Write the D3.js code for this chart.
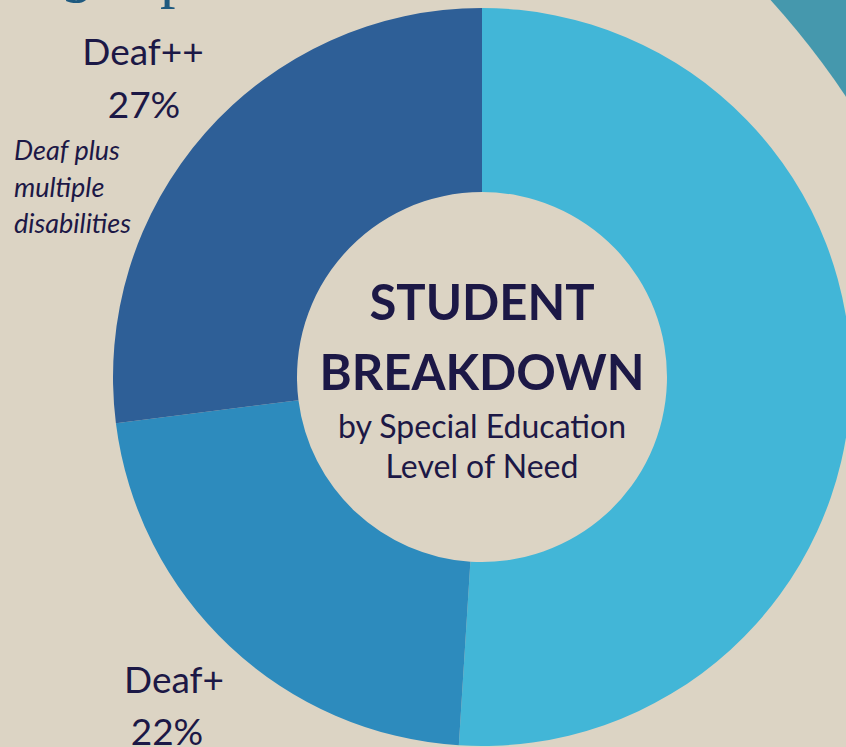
<!DOCTYPE html>
<html lang="en">
<head>
<meta charset="utf-8">
<script src="https://d3js.org/d3.v7.min.js"></script>
<style>
body { margin: 0; background: #dcd4c4; }
svg { display: block; }
.lbl { font-family: Lato, "Open Sans", sans-serif; fill: #1c1846; }
</style>
</head>
<body>
<div id="chart"></div>
<script>
// data
var categories = ["Deaf", "Deaf+", "Deaf++"];
var shares = [51, 22, 27];
var colors = ["#42b6d7", "#2d8bbd", "#2e5f97"];

var width = 846, height = 747;
var cx = 482, cy = 377;
var outerR = 369, innerR = 185;

var svg = d3.select("#chart").append("svg")
  .attr("width", width)
  .attr("height", height);

svg.append("rect").attr("width", width).attr("height", height).attr("fill", "#dcd4c4");

// decorative circle in the corner
svg.append("circle")
  .attr("cx", 140).attr("cy", 570).attr("r", 1200)
  .attr("fill", "#4598ad");
svg.append("circle")
  .attr("cx", 140).attr("cy", 570).attr("r", 850)
  .attr("fill", "#dcd4c4");

// bits of the page title above, cut off
svg.append("text")
  .attr("x", 66).attr("y", -10)
  .style("font-family", "'Liberation Serif', 'DejaVu Serif', serif")
  .style("font-size", "62px")
  .style("font-style", "italic")
  .attr("fill", "#1f5a80")
  .text("g");
svg.append("text")
  .attr("x", 160).attr("y", -4)
  .style("font-family", "'Liberation Serif', 'DejaVu Serif', serif")
  .style("font-size", "62px")
  .attr("fill", "#1f5a80")
  .text("p");

var pie = d3.pie().sort(null).value(function(d) { return d; });
var arc = d3.arc().innerRadius(innerR).outerRadius(outerR);

var g = svg.append("g").attr("transform", "translate(" + cx + "," + cy + ")");

g.selectAll("path")
  .data(pie(shares))
  .enter()
  .append("path")
  .attr("d", arc)
  .attr("fill", function(d, i) { return colors[i]; });

// center title
var center = g.append("g").attr("class", "lbl").attr("text-anchor", "middle");
center.append("text").attr("y", -57).style("font-size", "49px").style("font-weight", "700").text("STUDENT");
center.append("text").attr("y", 13).style("font-size", "49px").style("font-weight", "700").text("BREAKDOWN");
center.append("text").attr("y", 61).style("font-size", "32px").text("by Special Education");
center.append("text").attr("y", 101).style("font-size", "32px").text("Level of Need");

// slice labels
svg.append("text").attr("class", "lbl").attr("x", 143).attr("y", 65)
  .attr("text-anchor", "middle").style("font-size", "37px").text(categories[2]);
svg.append("text").attr("class", "lbl").attr("x", 144).attr("y", 118)
  .attr("text-anchor", "middle").style("font-size", "37px").text(shares[2] + "%");

var note = ["Deaf plus", "multiple", "disabilities"];
svg.append("g").attr("class", "lbl")
  .selectAll("text").data(note).enter().append("text")
  .attr("x", 14)
  .attr("y", function(d, i) { return 160 + i * 36.5; })
  .style("font-size", "27px")
  .style("font-style", "italic")
  .text(function(d) { return d; });

svg.append("text").attr("class", "lbl").attr("x", 174).attr("y", 693)
  .attr("text-anchor", "middle").style("font-size", "37px").text(categories[1]);
svg.append("text").attr("class", "lbl").attr("x", 167).attr("y", 745)
  .attr("text-anchor", "middle").style("font-size", "37px").text(shares[1] + "%");
</script>
</body>
</html>
